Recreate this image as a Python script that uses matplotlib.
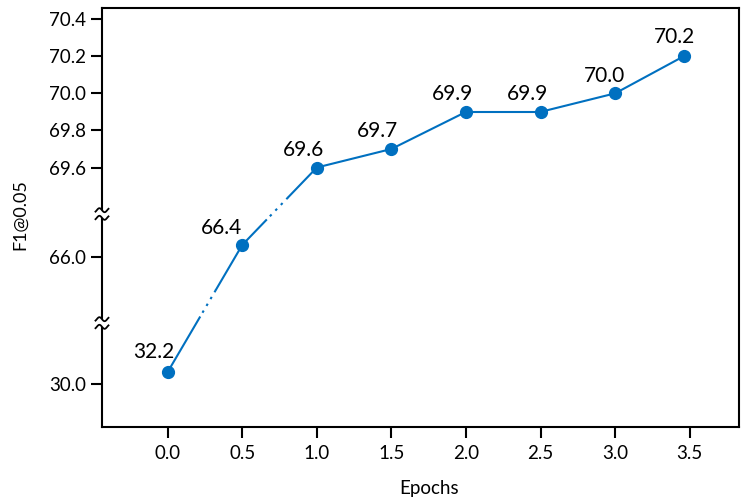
import numpy as np
import matplotlib
matplotlib.use("Agg")
import matplotlib.pyplot as plt
from matplotlib.ticker import FixedLocator, FormatStrFormatter, NullLocator

# ---------------------------------------------------------------------------
# Data
# ---------------------------------------------------------------------------
EPOCHS = [0.0, 0.5, 1.0, 1.5, 2.0, 2.5, 3.0, 3.46]
F1_SCORES = [32.2, 66.4, 69.6, 69.7, 69.9, 69.9, 70.0, 70.2]
X_TICKS = [0.0, 0.5, 1.0, 1.5, 2.0, 2.5, 3.0, 3.5]
Y_TICKS = [30.0, 66.0, 69.6, 69.8, 70.0, 70.2, 70.4]

# ---------------------------------------------------------------------------
# Layout / style
# ---------------------------------------------------------------------------
LINE_COLOR = "#0070C0"
plt.rcParams["font.family"] = ["Lato", "DejaVu Sans"]

# broken y axis: piecewise-linear mapping of data -> axes height
AX_H_PX = 419.0
SEG_DATA = [22.1, 41.2, 63.8, 67.43, 69.35, 70.46]
SEG_FRAC = [v / AX_H_PX for v in (0.0, 103.9, 104.1, 212.9, 213.1, 419.0)]
BREAKS = [104.0 / AX_H_PX, 213.0 / AX_H_PX]

# parts of the cross-break segments drawn dotted (fraction along segment)
DOT_SPANS = {0: (0.43, 0.65), 1: (0.32, 0.62)}

# label offsets in points (dx, dy)
LABEL_DX = [-10, -15, -9.6, -9.7, -9.4, -9.7, -8, -6.5]
LABEL_DY = [14.2, 12, 12.8, 12.8, 12.8, 12.8, 12.4, 13.5]


def forward(y):
    return np.interp(y, SEG_DATA, SEG_FRAC)


def inverse(v):
    return np.interp(v, SEG_FRAC, SEG_DATA)


def draw_break(ax, frac, w_px, h_px):
    """Draw a '≈' break mark on the left spine at axes height `frac`."""
    t = np.linspace(-0.25 * np.pi, 2.25 * np.pi, 60)
    xs = (t - np.pi) / (2.5 * np.pi) * 13.0 / w_px
    gap = 3.8 / h_px
    ax.plot([0, 0], [frac - gap, frac + gap], color="white", lw=3,
            transform=ax.transAxes, clip_on=False, zorder=5,
            solid_capstyle="butt")
    for off in (-gap, gap):
        ys = frac + off + 2.0 * np.sin(t) / h_px
        ax.plot(xs, ys, color="black", lw=1.3, transform=ax.transAxes,
                clip_on=False, zorder=6)


def main() -> None:
    fig = plt.figure(figsize=(7.47, 5.04), dpi=100)
    ax = fig.add_axes([102 / 747, 77 / 504, 637 / 747, 419 / 504])

    ax.set_yscale("function", functions=(forward, inverse))
    ax.set_ylim(SEG_DATA[0], SEG_DATA[-1])
    ax.set_xlim(-0.44, 3.83)

    # line, split into solid / dotted pieces across the breaks
    for i in range(len(EPOCHS) - 1):
        x0, x1 = EPOCHS[i], EPOCHS[i + 1]
        y0, y1 = F1_SCORES[i], F1_SCORES[i + 1]
        if i in DOT_SPANS:
            v0, v1 = forward(y0), forward(y1)
            a, b = DOT_SPANS[i]
            xa, xb = x0 + a * (x1 - x0), x0 + b * (x1 - x0)
            ya, yb = inverse(v0 + a * (v1 - v0)), inverse(v0 + b * (v1 - v0))
            ax.plot([x0, xa], [y0, ya], color=LINE_COLOR, lw=1.5, zorder=3)
            ax.plot([xa, xb], [ya, yb], color=LINE_COLOR, lw=1.5, zorder=3,
                    linestyle=(1.2, (1.2, 2.6)))
            ax.plot([xb, x1], [yb, y1], color=LINE_COLOR, lw=1.5, zorder=3)
        else:
            ax.plot([x0, x1], [y0, y1], color=LINE_COLOR, lw=1.5, zorder=3)

    ax.plot(EPOCHS, F1_SCORES, linestyle="none", marker="o", markersize=8.5,
            color=LINE_COLOR, zorder=4)

    for x, y, dx, dy in zip(EPOCHS, F1_SCORES, LABEL_DX, LABEL_DY):
        ax.annotate(f"{y:.1f}", (x, y), xytext=(dx, dy), textcoords="offset points",
                    ha="center", va="center", fontsize=15, color="black")

    # axes styling
    ax.yaxis.set_major_locator(FixedLocator(Y_TICKS))
    ax.yaxis.set_major_formatter(FormatStrFormatter("%.1f"))
    ax.yaxis.set_minor_locator(NullLocator())
    ax.set_xticks(X_TICKS)
    ax.xaxis.set_major_formatter(FormatStrFormatter("%.1f"))
    for spine in ax.spines.values():
        spine.set_linewidth(1.5)
        spine.set_color("black")
    ax.tick_params(axis="both", direction="out", length=8, width=1.5,
                   labelsize=13.5, colors="black")
    ax.tick_params(axis="y", pad=3.5)
    ax.tick_params(axis="x", pad=5)

    ax.set_ylabel("F1@0.05", fontsize=13)
    ax.yaxis.label.set_va("center")
    ax.yaxis.set_label_coords(-0.128, 0.506)
    ax.set_xlabel("Epochs", fontsize=13.5)
    ax.xaxis.label.set_va("center")
    ax.xaxis.set_label_coords(0.513, -0.146)

    w_px = 637.0
    for frac in BREAKS:
        draw_break(ax, frac, w_px, AX_H_PX)

    fig.savefig("out.png", dpi=100, facecolor="white")
    plt.close(fig)


if __name__ == "__main__":
    main()
